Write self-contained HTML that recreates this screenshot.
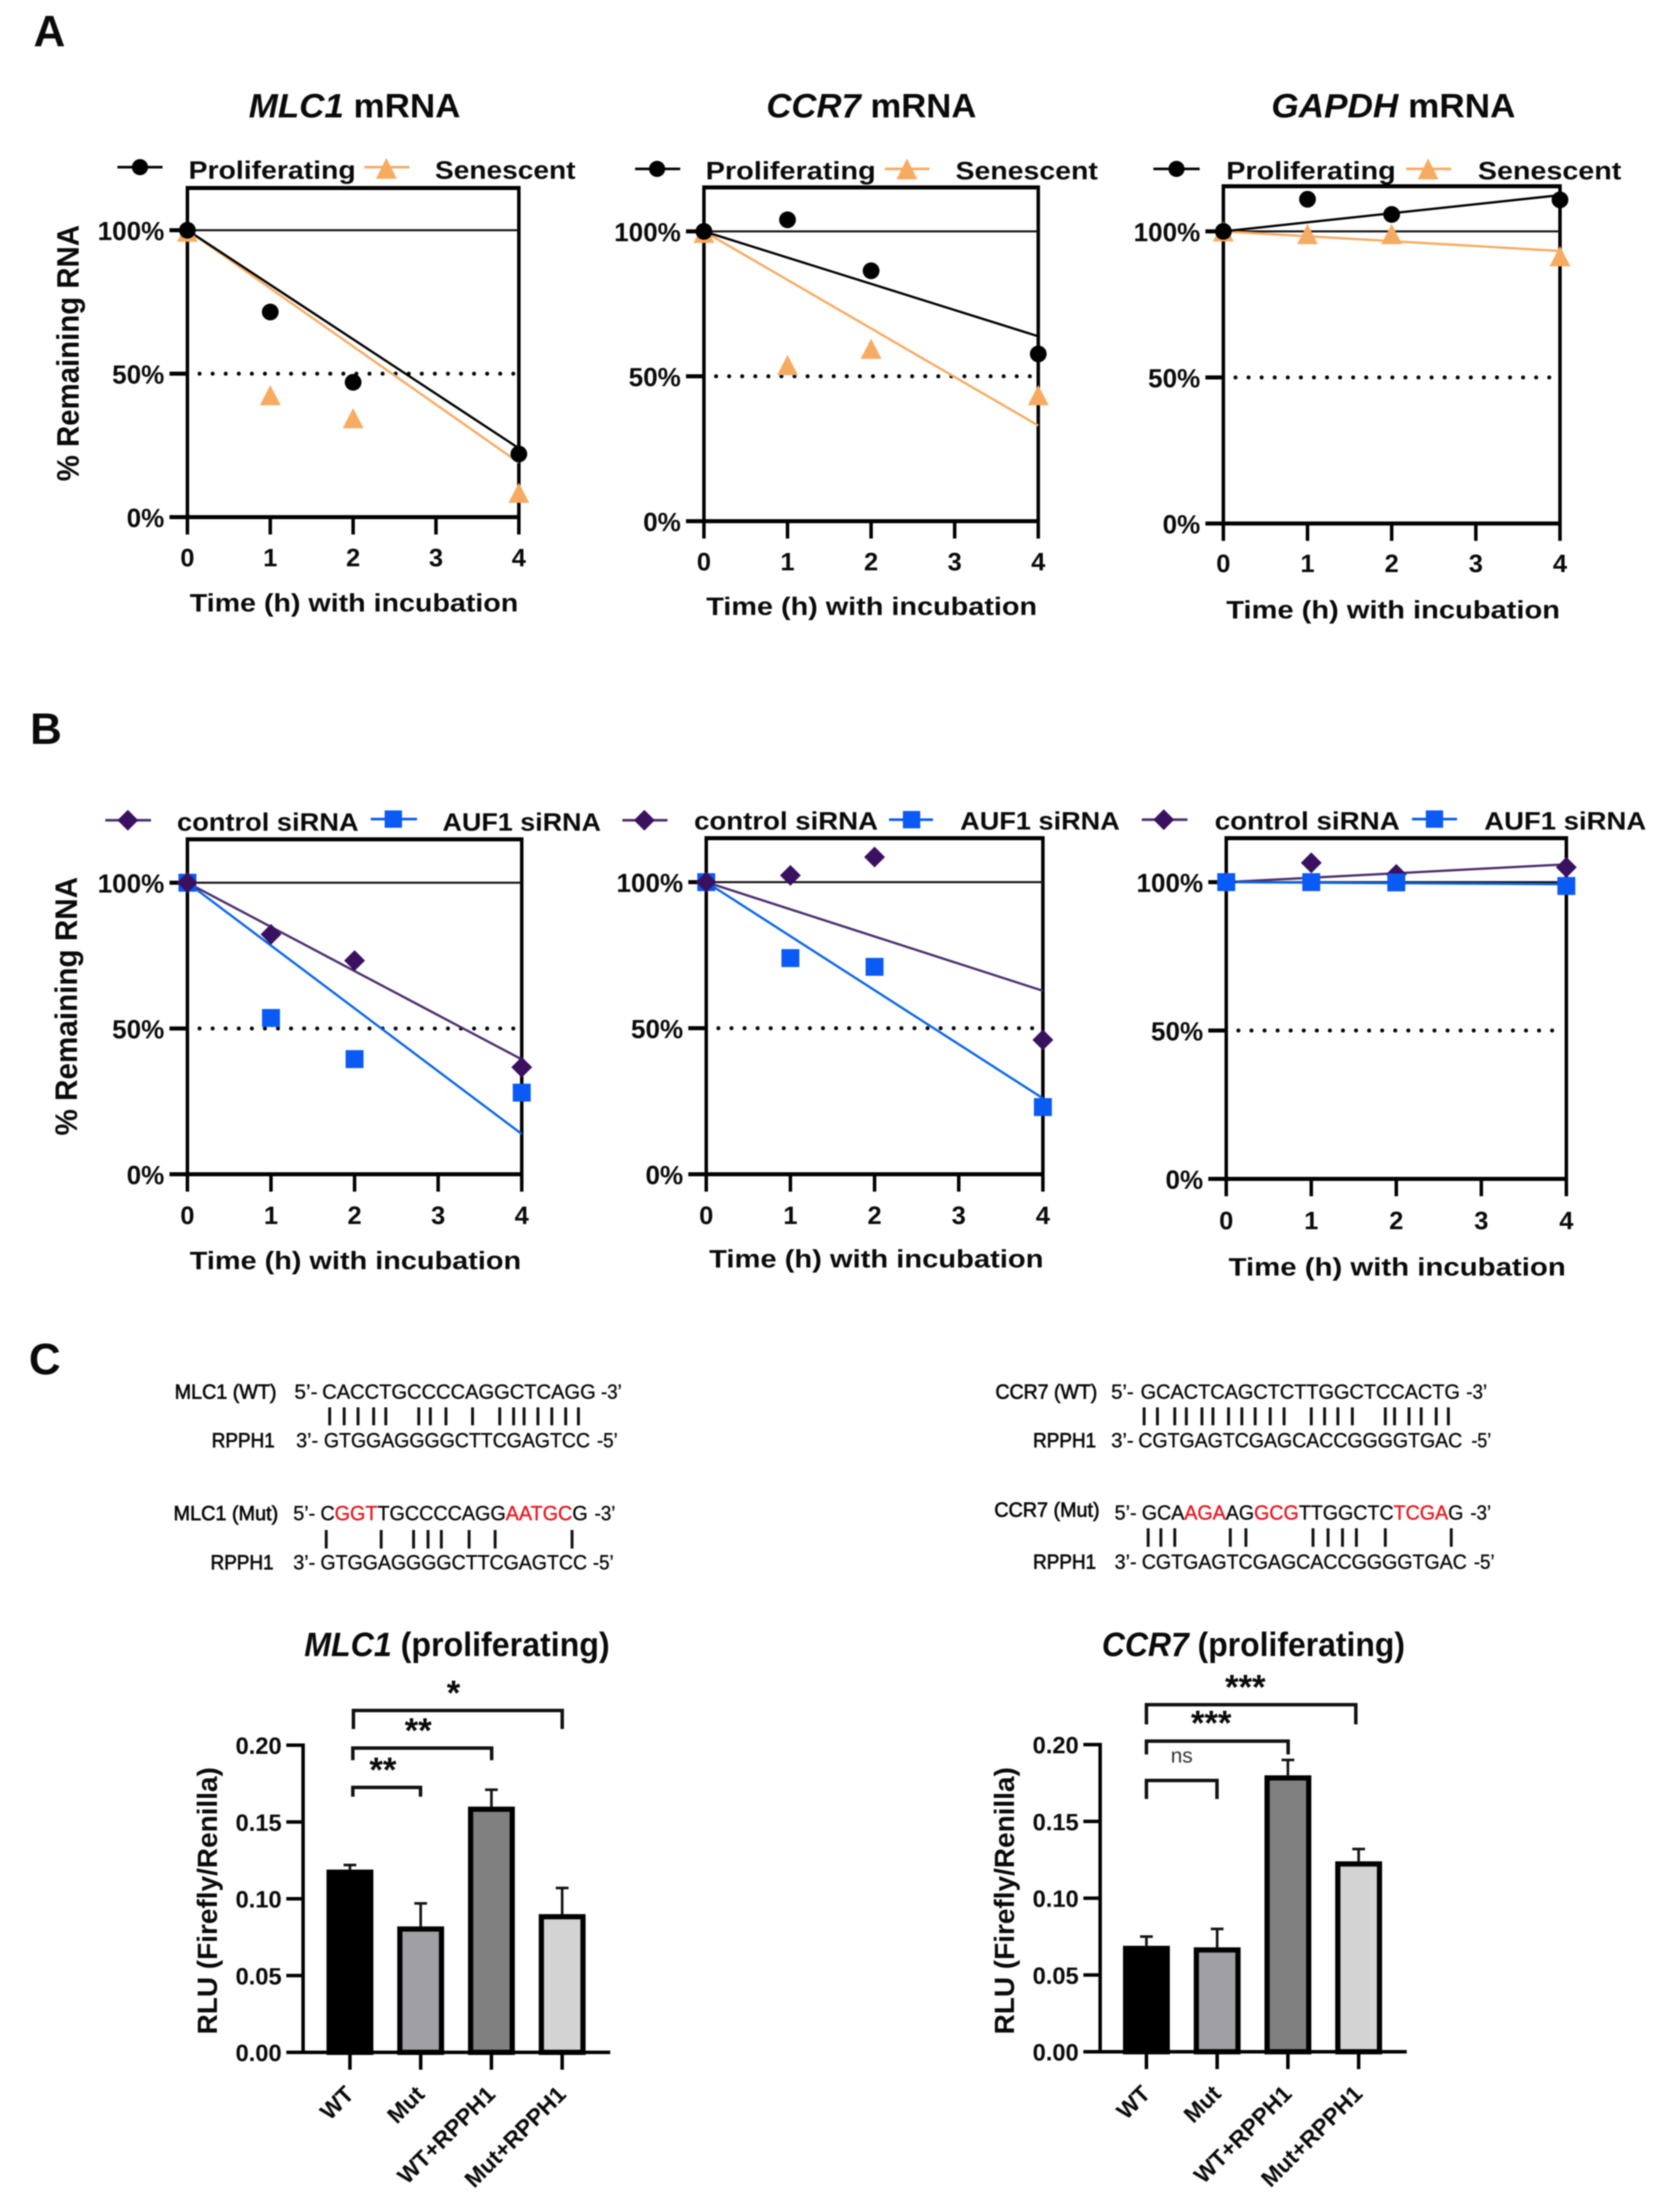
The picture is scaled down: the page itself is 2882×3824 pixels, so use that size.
<!DOCTYPE html>
<html lang="en">
<head>
<meta charset="utf-8">
<title>RNA stability and luciferase reporter figure</title>
<style>
html,body{margin:0;padding:0;background:#fff}
svg{display:block;filter:blur(1px)}
text{font-family:"Liberation Sans",Arial,sans-serif;fill:#0a0a0a}
.b{font-weight:700}
.letter{font-size:76px;font-weight:700}
.title{font-size:58px;font-weight:700}
.leg{font-size:44px;font-weight:700}
.xt{font-size:44px;font-weight:700}
.yt{font-size:54px;font-weight:700}
.seq{font-size:35px;stroke:#0a0a0a;stroke-width:.6}
.seq.lab{stroke-width:1.1}
.seq .r{fill:#e8171f;stroke:#e8171f}
.pair{stroke:#111;stroke-width:5;fill:none}
.brk{stroke:#111;stroke-width:6;fill:none}
</style>
</head>
<body>
<svg id="figure" xmlns="http://www.w3.org/2000/svg" width="2882" height="3824" viewBox="0 0 2882 3824">
<rect width="2882" height="3824" fill="#fff"/>

<text class="letter" x="58" y="80">A</text>
<text class="letter" x="52" y="1286">B</text>
<text class="letter" x="50" y="2376">C</text>

<!-- Panel A titles -->
<text class="title" x="430" y="203" textLength="366" lengthAdjust="spacingAndGlyphs"><tspan font-style="italic">MLC1</tspan> mRNA</text>
<text class="title" x="1325" y="203" textLength="363" lengthAdjust="spacingAndGlyphs"><tspan font-style="italic">CCR7</tspan> mRNA</text>
<text class="title" x="2198" y="203" textLength="422" lengthAdjust="spacingAndGlyphs"><tspan font-style="italic">GAPDH</tspan> mRNA</text>

<!-- Panel A legends -->
<g>
<path d="M203 289H281" stroke="#000" stroke-width="4.5"/>
<circle cx="242" cy="289" r="14" fill="#000"/>
<text class="leg" x="326" y="309" textLength="289" lengthAdjust="spacingAndGlyphs">Proliferating</text>
<path d="M630 289H708" stroke="#f7ab62" stroke-width="4.5"/>
<polygon points="668,273 650,309 686,309" fill="#f7ab62"/>
<text class="leg" x="752" y="309" textLength="243" lengthAdjust="spacingAndGlyphs">Senescent</text>
</g>
<g>
<path d="M1098 292H1176" stroke="#000" stroke-width="4.5"/>
<circle cx="1136" cy="292" r="14" fill="#000"/>
<text class="leg" x="1220" y="310" textLength="294" lengthAdjust="spacingAndGlyphs">Proliferating</text>
<path d="M1530 292H1607" stroke="#f7ab62" stroke-width="4.5"/>
<polygon points="1568,274 1550,310 1586,310" fill="#f7ab62"/>
<text class="leg" x="1652" y="310" textLength="246" lengthAdjust="spacingAndGlyphs">Senescent</text>
</g>
<g>
<path d="M1994 292H2074" stroke="#000" stroke-width="4.5"/>
<circle cx="2034" cy="292" r="14" fill="#000"/>
<text class="leg" x="2120" y="310" textLength="293" lengthAdjust="spacingAndGlyphs">Proliferating</text>
<path d="M2431 292H2509" stroke="#f7ab62" stroke-width="4.5"/>
<polygon points="2469,274 2451,310 2487,310" fill="#f7ab62"/>
<text class="leg" x="2555" y="310" textLength="248" lengthAdjust="spacingAndGlyphs">Senescent</text>
</g>

<!-- Panel A axis titles -->
<text class="yt" transform="translate(136 610.5) rotate(-90)" text-anchor="middle" textLength="443" lengthAdjust="spacingAndGlyphs">% Remaining RNA</text>
<text class="xt" x="328" y="1057" textLength="568" lengthAdjust="spacingAndGlyphs">Time (h) with incubation</text>
<text class="xt" x="1221" y="1063" textLength="572" lengthAdjust="spacingAndGlyphs">Time (h) with incubation</text>
<text class="xt" x="2120" y="1069" textLength="577" lengthAdjust="spacingAndGlyphs">Time (h) with incubation</text>

<!-- Panel B legends -->
<g>
<path d="M182 1418H261" stroke="#4b2e6e" stroke-width="4.5"/>
<polygon points="221,1400 239,1418 221,1436 203,1418" fill="#3a1060"/>
<text class="leg" x="306" y="1436" textLength="314" lengthAdjust="spacingAndGlyphs">control siRNA</text>
<path d="M641 1416H721" stroke="#0a5af0" stroke-width="4.5"/>
<rect x="665" y="1401" width="30" height="30" fill="#0a5af5"/>
<text class="leg" x="765" y="1436" textLength="274" lengthAdjust="spacingAndGlyphs">AUF1 siRNA</text>
</g>
<g>
<path d="M1076 1418H1154" stroke="#4b2e6e" stroke-width="4.5"/>
<polygon points="1114,1400 1132,1418 1114,1436 1096,1418" fill="#3a1060"/>
<text class="leg" x="1200" y="1434" textLength="318" lengthAdjust="spacingAndGlyphs">control siRNA</text>
<path d="M1537 1417H1613" stroke="#0a5af0" stroke-width="4.5"/>
<rect x="1561" y="1402" width="30" height="30" fill="#0a5af5"/>
<text class="leg" x="1660" y="1434" textLength="276" lengthAdjust="spacingAndGlyphs">AUF1 siRNA</text>
</g>
<g>
<path d="M1974 1417H2053" stroke="#4b2e6e" stroke-width="4.5"/>
<polygon points="2012,1399 2030,1417 2012,1435 1994,1417" fill="#3a1060"/>
<text class="leg" x="2100" y="1434" textLength="320" lengthAdjust="spacingAndGlyphs">control siRNA</text>
<path d="M2441 1416H2519" stroke="#0a5af0" stroke-width="4.5"/>
<rect x="2465" y="1401" width="30" height="30" fill="#0a5af5"/>
<text class="leg" x="2566" y="1434" textLength="280" lengthAdjust="spacingAndGlyphs">AUF1 siRNA</text>
</g>

<!-- Panel B axis titles -->
<text class="yt" transform="translate(133 1739.5) rotate(-90)" text-anchor="middle" textLength="447" lengthAdjust="spacingAndGlyphs">% Remaining RNA</text>
<text class="xt" x="328" y="2194" textLength="573" lengthAdjust="spacingAndGlyphs">Time (h) with incubation</text>
<text class="xt" x="1226" y="2191" textLength="578" lengthAdjust="spacingAndGlyphs">Time (h) with incubation</text>
<text class="xt" x="2124" y="2205" textLength="583" lengthAdjust="spacingAndGlyphs">Time (h) with incubation</text>

<!-- Sequence alignments: MLC1 -->
<g>
<text class="seq lab" x="302" y="2418" textLength="176" lengthAdjust="spacingAndGlyphs">MLC1 (WT)</text>
<text class="seq" x="509" y="2418" textLength="40" lengthAdjust="spacingAndGlyphs">5’-</text>
<text class="seq" x="557" y="2418" textLength="473" lengthAdjust="spacingAndGlyphs">CACCTGCCCCAGGCTCAGG</text>
<text class="seq" x="1039" y="2418" textLength="36" lengthAdjust="spacingAndGlyphs">-3’</text>
<path class="pair" d="M570 2433V2464M595 2433V2464M619 2433V2464M646 2433V2464M667 2433V2464M724 2433V2464M744 2433V2464M771 2433V2464M817 2433V2464M864 2433V2464M888 2433V2464M906 2433V2464M930 2433V2464M954 2433V2464M978 2433V2464M1000 2433V2464"/>
<text class="seq lab" x="366" y="2502" textLength="109" lengthAdjust="spacingAndGlyphs">RPPH1</text>
<text class="seq" x="512" y="2502" textLength="38" lengthAdjust="spacingAndGlyphs">3’-</text>
<text class="seq" x="560" y="2502" textLength="460" lengthAdjust="spacingAndGlyphs">GTGGAGGGGCTTCGAGTCC</text>
<text class="seq" x="1032" y="2502" textLength="36" lengthAdjust="spacingAndGlyphs">-5’</text>

<text class="seq lab" x="300" y="2628" textLength="181" lengthAdjust="spacingAndGlyphs">MLC1 (Mut)</text>
<text class="seq" x="507" y="2628" textLength="38" lengthAdjust="spacingAndGlyphs">5’-</text>
<text class="seq" x="554" y="2628" textLength="462" lengthAdjust="spacingAndGlyphs">C<tspan class="r">GGT</tspan>TGCCCCAGG<tspan class="r">AATGC</tspan>G</text>
<text class="seq" x="1028" y="2628" textLength="36" lengthAdjust="spacingAndGlyphs">-3’</text>
<path class="pair" d="M564 2645V2677M659 2645V2677M715 2645V2677M740 2645V2677M763 2645V2677M811 2645V2677M856 2645V2677M989 2645V2677"/>
<text class="seq lab" x="364" y="2713" textLength="109" lengthAdjust="spacingAndGlyphs">RPPH1</text>
<text class="seq" x="507" y="2713" textLength="38" lengthAdjust="spacingAndGlyphs">3’-</text>
<text class="seq" x="554" y="2713" textLength="461" lengthAdjust="spacingAndGlyphs">GTGGAGGGGCTTCGAGTCC</text>
<text class="seq" x="1025" y="2713" textLength="36" lengthAdjust="spacingAndGlyphs">-5’</text>
</g>

<!-- Sequence alignments: CCR7 -->
<g>
<text class="seq lab" x="1721" y="2418" textLength="176" lengthAdjust="spacingAndGlyphs">CCR7 (WT)</text>
<text class="seq" x="1921" y="2418" textLength="39" lengthAdjust="spacingAndGlyphs">5’-</text>
<text class="seq" x="1972" y="2418" textLength="552" lengthAdjust="spacingAndGlyphs">GCACTCAGCTCTTGGCTCCACTG</text>
<text class="seq" x="2535" y="2418" textLength="36" lengthAdjust="spacingAndGlyphs">-3’</text>
<path class="pair" d="M1978 2433V2464M2001 2433V2464M2031 2433V2464M2051 2433V2464M2078 2433V2464M2097 2433V2464M2124 2433V2464M2147 2433V2464M2170 2433V2464M2196 2433V2464M2220 2433V2464M2267 2433V2464M2290 2433V2464M2313 2433V2464M2338 2433V2464M2395 2433V2464M2411 2433V2464M2436 2433V2464M2457 2433V2464M2483 2433V2464M2504 2433V2464"/>
<text class="seq lab" x="1786" y="2502" textLength="109" lengthAdjust="spacingAndGlyphs">RPPH1</text>
<text class="seq" x="1921" y="2502" textLength="39" lengthAdjust="spacingAndGlyphs">3’-</text>
<text class="seq" x="1968" y="2502" textLength="560" lengthAdjust="spacingAndGlyphs">CGTGAGTCGAGCACCGGGGTGAC</text>
<text class="seq" x="2544" y="2502" textLength="34" lengthAdjust="spacingAndGlyphs">-5’</text>

<text class="seq lab" x="1719" y="2622" textLength="182" lengthAdjust="spacingAndGlyphs">CCR7 (Mut)</text>
<text class="seq" x="1927" y="2627" textLength="38" lengthAdjust="spacingAndGlyphs">5’-</text>
<text class="seq" x="1974" y="2627" textLength="556" lengthAdjust="spacingAndGlyphs">GCA<tspan class="r">AGA</tspan>AG<tspan class="r">GCG</tspan>TTGGCTC<tspan class="r">TCGA</tspan>G</text>
<text class="seq" x="2542" y="2627" textLength="36" lengthAdjust="spacingAndGlyphs">-3’</text>
<path class="pair" d="M1985 2642V2674M2007 2642V2674M2031 2642V2674M2127 2642V2674M2154 2642V2674M2270 2642V2674M2296 2642V2674M2321 2642V2674M2345 2642V2674M2395 2642V2674M2509 2642V2674"/>
<text class="seq lab" x="1786" y="2712" textLength="109" lengthAdjust="spacingAndGlyphs">RPPH1</text>
<text class="seq" x="1927" y="2712" textLength="38" lengthAdjust="spacingAndGlyphs">3’-</text>
<text class="seq" x="1974" y="2712" textLength="562" lengthAdjust="spacingAndGlyphs">CGTGAGTCGAGCACCGGGGTGAC</text>
<text class="seq" x="2548" y="2712" textLength="36" lengthAdjust="spacingAndGlyphs">-5’</text>
</g>

<!-- Bar chart titles -->
<text class="title" x="526" y="2863" textLength="528" lengthAdjust="spacingAndGlyphs"><tspan font-style="italic">MLC1</tspan> (proliferating)</text>
<text class="title" x="1905" y="2863" textLength="524" lengthAdjust="spacingAndGlyphs"><tspan font-style="italic">CCR7</tspan> (proliferating)</text>
<text class="yt" style="font-size:48px" transform="translate(375 3286) rotate(-90)" text-anchor="middle" textLength="462" lengthAdjust="spacingAndGlyphs">RLU (Firefly/Renilla)</text>
<text class="yt" style="font-size:48px" transform="translate(1753 3286) rotate(-90)" text-anchor="middle" textLength="462" lengthAdjust="spacingAndGlyphs">RLU (Firefly/Renilla)</text>

<!-- Significance annotations -->
<g>
<path class="brk" d="M611 2989V2957H972V2989"/>
<text class="b" font-size="60" x="784" y="2947" text-anchor="middle">*</text>
<path class="brk" d="M610 3043V3022H850V3043"/>
<text class="b" font-size="60" x="723" y="3012" text-anchor="middle">**</text>
<path class="brk" d="M610 3106V3090H727V3106"/>
<text class="b" font-size="60" x="662" y="3080" text-anchor="middle">**</text>
</g>
<g>
<path class="brk" d="M1982 2981V2947H2344V2981"/>
<text class="b" font-size="60" x="2153" y="2937" text-anchor="middle">***</text>
<path class="brk" d="M1982 3033V3010H2227V3033"/>
<text class="b" font-size="60" x="2094" y="2999" text-anchor="middle">***</text>
<path class="brk" d="M1982 3110V3078H2104V3110"/>
<text font-size="36" x="2043" y="3047" text-anchor="middle" style="fill:#333">ns</text>
</g>
<g id="charts"></g>
</svg>

<script>
// Shared axes
const timePoints = [0, 1, 2, 4];
const xTicks = [0, 1, 2, 3, 4];
const xTickLabels = ['0', '1', '2', '3', '4'];
const yTicks = [0, 50, 100];
const yTickLabels = ['0%', '50%', '100%'];
const fitTimes = [0, 4];

// Panel A: remaining RNA (%)
const mlc1Prolif = [100, 71.5, 47, 22];
const mlc1Senes = [99, 42, 34, 8];
const mlc1ProlifFit = [100, 24];
const mlc1SenesFit = [100, 19];

const ccr7Prolif = [100, 104, 86.4, 57.7];
const ccr7Senes = [99, 53.4, 59, 43];
const ccr7ProlifFit = [100, 63.8];
const ccr7SenesFit = [100, 33];

const gapdhProlif = [100, 111, 105.8, 110.8];
const gapdhSenes = [99.5, 98.6, 98.6, 91];
const gapdhProlifFit = [100, 112.4];
const gapdhSenesFit = [100, 93.3];

// Panel B: remaining RNA (%)
const bMlc1Control = [100, 82.3, 73.3, 36.7];
const bMlc1Auf1 = [100, 53.6, 39.5, 28];
const bMlc1ControlFit = [100, 39.4];
const bMlc1Auf1Fit = [100, 13.8];

const bCcr7Control = [100, 102.3, 108.6, 46];
const bCcr7Auf1 = [100, 74, 71, 23];
const bCcr7ControlFit = [100, 62.8];
const bCcr7Auf1Fit = [100, 26];

const bGapdhControl = [100, 106.5, 102.6, 105];
const bGapdhAuf1 = [100, 100, 99.9, 98.7];
const bGapdhControlFit = [100, 106];
const bGapdhAuf1Fit = [100, 99.3];

// Panel C: luciferase bars
const barCategories = ['WT', 'Mut', 'WT+RPPH1', 'Mut+RPPH1'];
const barTicks = [0, 0.05, 0.1, 0.15, 0.2];
const barTickLabels = ['0.00', '0.05', '0.10', '0.15', '0.20'];
const barFills = ['#000000', '#a0a0a4', '#808080', '#d3d3d3'];
const mlc1Means = [0.119, 0.082, 0.160, 0.090];
const mlc1ErrTops = [0.122, 0.097, 0.171, 0.107];
const ccr7Means = [0.069, 0.068, 0.180, 0.124];
const ccr7ErrTops = [0.075, 0.080, 0.190, 0.132];

const SVGNS = 'http://www.w3.org/2000/svg';
const root = document.getElementById('charts');

function mk(tag, attrs, parent) {
  const el = document.createElementNS(SVGNS, tag);
  for (const k in attrs) el.setAttribute(k, attrs[k]);
  parent.appendChild(el);
  return el;
}

const ORANGE = '#f7ab62', BLACK = '#000000', PURPLE = '#3a1060', PURPLE_LINE = '#4b2e6e', BLUE = '#0a5af5', BLUE_LINE = '#0a66e8';

function drawMarker(kind, cx, cy, color, parent) {
  let m;
  if (kind === 'circle') {
    m = mk('circle', {cx: cx, cy: cy, r: 14.5, fill: color}, parent);
  } else if (kind === 'triangle') {
    m = mk('polygon', {points: (cx) + ',' + (cy - 20) + ' ' + (cx - 18) + ',' + (cy + 15) + ' ' + (cx + 18) + ',' + (cy + 15), fill: color}, parent);
  } else if (kind === 'diamond') {
    m = mk('polygon', {points: cx + ',' + (cy - 18) + ' ' + (cx + 18) + ',' + cy + ' ' + cx + ',' + (cy + 18) + ' ' + (cx - 18) + ',' + cy, fill: color}, parent);
  } else {
    m = mk('rect', {x: cx - 15.5, y: cy - 15.5, width: 31, height: 31, fill: color}, parent);
  }
  
  
}

function drawLinePanel(p) {
  const g = mk('g', {}, root);
  
  
  const xS = function (v) { return p.left + v / 4 * (p.right - p.left); };
  const yS = function (v) { return p.y0 - v / 100 * (p.y0 - p.y100); };

  const frameLeft = mk('line', {x1: p.left, x2: p.left, y1: p.top - 3.5, y2: p.y0 + 3.5, stroke: '#000', 'stroke-width': 6}, g);
  
  
  const frameRight = mk('line', {x1: p.right, x2: p.right, y1: p.top - 3.5, y2: p.y0 + 3.5, stroke: '#000', 'stroke-width': 6}, g);
  
  
  const frameTop = mk('line', {x1: p.left - 3, x2: p.right + 3, y1: p.top, y2: p.top, stroke: '#000', 'stroke-width': 7}, g);
  
  
  const frameBottom = mk('line', {x1: p.left - 3, x2: p.right + 3, y1: p.y0, y2: p.y0, stroke: '#000', 'stroke-width': 7}, g);
  
  

  const refLine = mk('line', {x1: p.left, x2: p.right, y1: yS(100), y2: yS(100), stroke: '#111', 'stroke-width': 3.5}, g);
  
  

  const halfLine = mk('line', {x1: p.left + 21, x2: p.right - 9, y1: yS(50), y2: yS(50), stroke: '#000', 'stroke-width': 7, 'stroke-linecap': 'round', 'stroke-dasharray': '0 22.6'}, g);
  
  

  yTicks.forEach(function (t, i) {
    const tick = mk('line', {x1: p.left - 31, x2: p.left, y1: yS(t), y2: yS(t), stroke: '#000', 'stroke-width': 7}, g);
    
    
    const lab = mk('text', {x: p.left - 40, y: yS(t) + 17, 'text-anchor': 'end', 'font-size': 45, 'font-weight': 700}, g);
    lab.textContent = yTickLabels[i];
    
    
  });
  xTicks.forEach(function (t, i) {
    const tick = mk('line', {x1: xS(t), x2: xS(t), y1: p.y0, y2: p.y0 + 30, stroke: '#000', 'stroke-width': 6}, g);
    
    
    const lab = mk('text', {x: xS(t), y: p.xLabelY, 'text-anchor': 'middle', 'font-size': 44, 'font-weight': 700}, g);
    lab.textContent = xTickLabels[i];
    
    
  });

  p.series.forEach(function (s) {
    const fit = mk('line', {x1: xS(fitTimes[0]), y1: yS(s.fit[0]), x2: xS(fitTimes[1]), y2: yS(s.fit[1]), stroke: s.lineColor, 'stroke-width': 4}, g);
    
    
  });
  p.series.forEach(function (s) {
    timePoints.forEach(function (t, i) {
      drawMarker(s.kind, xS(t), yS(s.values[i]), s.color, g);
    });
  });
}

[
  {left: 324, right: 897, top: 325, y100: 398, y0: 894, xLabelY: 979, series: [
    {kind: 'triangle', color: ORANGE, lineColor: ORANGE, values: mlc1Senes, fit: mlc1SenesFit},
    {kind: 'circle', color: BLACK, lineColor: BLACK, values: mlc1Prolif, fit: mlc1ProlifFit}]},
  {left: 1217, right: 1795, top: 324, y100: 400, y0: 901, xLabelY: 986, series: [
    {kind: 'triangle', color: ORANGE, lineColor: ORANGE, values: ccr7Senes, fit: ccr7SenesFit},
    {kind: 'circle', color: BLACK, lineColor: BLACK, values: ccr7Prolif, fit: ccr7ProlifFit}]},
  {left: 2115, right: 2697, top: 322, y100: 400, y0: 905, xLabelY: 989, series: [
    {kind: 'triangle', color: ORANGE, lineColor: ORANGE, values: gapdhSenes, fit: gapdhSenesFit},
    {kind: 'circle', color: BLACK, lineColor: BLACK, values: gapdhProlif, fit: gapdhProlifFit}]},
  {left: 324, right: 902, top: 1451, y100: 1526, y0: 2030, xLabelY: 2116, series: [
    {kind: 'square', color: BLUE, lineColor: BLUE_LINE, values: bMlc1Auf1, fit: bMlc1Auf1Fit},
    {kind: 'diamond', color: PURPLE, lineColor: PURPLE_LINE, values: bMlc1Control, fit: bMlc1ControlFit}]},
  {left: 1221, right: 1803, top: 1449, y100: 1525, y0: 2030, xLabelY: 2116, series: [
    {kind: 'square', color: BLUE, lineColor: BLUE_LINE, values: bCcr7Auf1, fit: bCcr7Auf1Fit},
    {kind: 'diamond', color: PURPLE, lineColor: PURPLE_LINE, values: bCcr7Control, fit: bCcr7ControlFit}]},
  {left: 2120, right: 2708, top: 1449, y100: 1525, y0: 2038, xLabelY: 2125, series: [
    {kind: 'diamond', color: PURPLE, lineColor: PURPLE_LINE, values: bGapdhControl, fit: bGapdhControlFit},
    {kind: 'square', color: BLUE, lineColor: BLUE_LINE, values: bGapdhAuf1, fit: bGapdhAuf1Fit}]}
].forEach(drawLinePanel);

function drawBarPanel(p) {
  const g = mk('g', {}, root);
  
  
  const yS = function (v) { return p.y0 - v / 0.2 * (p.y0 - p.y20); };
  const xS = function (i) { return p.first + i * p.step; };
  const halfW = 40.5, sw = 9;

  barCategories.forEach(function (cat, i) {
    const err = mk('path', {d: 'M' + xS(i) + ' ' + yS(p.means[i]) + 'V' + yS(p.errTops[i]) + 'M' + (xS(i) - 11) + ' ' + yS(p.errTops[i]) + 'H' + (xS(i) + 11), stroke: '#111', 'stroke-width': 4.5, fill: 'none'}, g);
    
    
    const bar = mk('rect', {x: xS(i) - halfW + sw / 2, y: yS(p.means[i]) + sw / 2, width: 2 * halfW - sw, height: yS(0) - yS(p.means[i]) - sw / 2, fill: barFills[i], stroke: '#000', 'stroke-width': sw}, g);
    
    
    const tick = mk('line', {x1: xS(i), x2: xS(i), y1: p.y0, y2: p.y0 + 30, stroke: '#000', 'stroke-width': 6}, g);
    
    
    const lab = mk('text', {transform: 'translate(' + (xS(i) + 9) + ' ' + (p.y0 + 75) + ') rotate(-45)', 'text-anchor': 'end', 'font-size': 40, 'font-weight': 700}, g);
    lab.textContent = cat;
    
    
  });

  const yAxis = mk('line', {x1: p.axisX, x2: p.axisX, y1: p.y20 - 3, y2: p.y0, stroke: '#000', 'stroke-width': 6}, g);
  
  
  const xAxis = mk('line', {x1: p.axisX - 29, x2: p.axisEnd, y1: p.y0, y2: p.y0, stroke: '#000', 'stroke-width': 6}, g);
  
  

  barTicks.forEach(function (t, i) {
    const tick = mk('line', {x1: p.axisX - 29, x2: p.axisX, y1: yS(t), y2: yS(t), stroke: '#000', 'stroke-width': 6}, g);
    
    
    const lab = mk('text', {x: p.axisX - 37, y: yS(t) + 15, 'text-anchor': 'end', 'font-size': 41, 'font-weight': 700}, g);
    lab.textContent = barTickLabels[i];
    
    
  });
}

drawBarPanel({axisX: 524, axisEnd: 1055, y20: 3017, y0: 3548, first: 605, step: 122.3, means: mlc1Means, errTops: mlc1ErrTops});
drawBarPanel({axisX: 1902, axisEnd: 2432, y20: 3016, y0: 3547, first: 1982, step: 122.3, means: ccr7Means, errTops: ccr7ErrTops});
</script>
</body>
</html>
